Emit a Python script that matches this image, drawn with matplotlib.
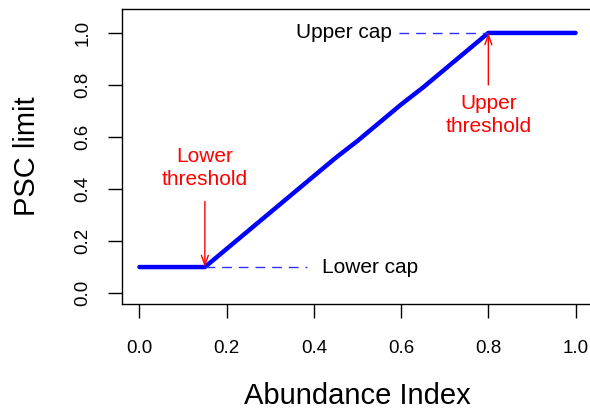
import matplotlib
matplotlib.use('Agg')
import matplotlib.pyplot as plt

# PSC limit as a function of abundance index
abundance = [0.0, 0.05, 0.10, 0.15, 0.20, 0.25, 0.30, 0.35, 0.40, 0.45, 0.50,
             0.55, 0.60, 0.65, 0.70, 0.75, 0.80, 0.85, 0.90, 0.95, 1.0]
psc_limit = [0.10, 0.10, 0.10, 0.10, 0.17, 0.24, 0.31, 0.38, 0.45, 0.52, 0.585,
             0.655, 0.725, 0.79, 0.86, 0.93, 1.0, 1.0, 1.0, 1.0, 1.0]

lower_threshold = 0.15
upper_threshold = 0.80
lower_cap = 0.10
upper_cap = 1.0

xticks = [0.0, 0.2, 0.4, 0.6, 0.8, 1.0]
yticks = [0.0, 0.2, 0.4, 0.6, 0.8, 1.0]

plt.rcParams['font.family'] = ['Liberation Sans', 'DejaVu Sans']

W, H = 590, 411
fig = plt.figure(figsize=(W / 100, H / 100), dpi=100)
ax = fig.add_axes([122 / W, 1 - 304 / H, (593 - 122) / W, (304 - 9) / H])

ax.plot(abundance, psc_limit, color='#0000ff', lw=3.2, solid_capstyle='round')

# cap lines and labels
ax.plot([lower_threshold, 0.385], [lower_cap, lower_cap], color='#3030ff',
        lw=1.0, linestyle=(0, (7, 5)))
ax.text(0.418, lower_cap, 'Lower cap', fontsize=15, ha='left', va='center')
ax.plot([0.595, upper_threshold], [upper_cap, upper_cap], color='#3030ff',
        lw=1.0, linestyle=(0, (7, 5)))
ax.text(0.578, upper_cap, 'Upper cap', fontsize=15, ha='right', va='center')

# threshold arrows
arrow = dict(arrowstyle='->,head_length=0.7,head_width=0.25', color='red', lw=1,
             shrinkA=0, shrinkB=0)
ax.annotate('', xy=(lower_threshold, lower_cap), xytext=(lower_threshold, 0.352),
            arrowprops=arrow)
ax.text(lower_threshold, 0.48, 'Lower\nthreshold', color='red', fontsize=15,
        ha='center', va='center', linespacing=1.3)
ax.annotate('', xy=(upper_threshold, upper_cap), xytext=(upper_threshold, 0.80),
            arrowprops=arrow)
ax.text(upper_threshold, 0.685, 'Upper\nthreshold', color='red', fontsize=15,
        ha='center', va='center', linespacing=1.3)

ax.set_xlim(-0.04, 1.04)
ax.set_ylim(-0.042, 1.092)
ax.set_xticks(xticks)
ax.set_yticks(yticks)
ax.set_xticklabels([f'{v:.1f}' for v in xticks])
ax.set_yticklabels([f'{v:.1f}' for v in yticks], rotation=90, va='center')
ax.tick_params(axis='both', length=10, width=1, labelsize=13.5, direction='out')
ax.tick_params(axis='x', pad=16)
ax.tick_params(axis='y', pad=12)
for s in ax.spines.values():
    s.set_linewidth(1)

ax.set_xlabel('Abundance Index', fontsize=21, labelpad=18)
ax.set_ylabel('PSC limit', fontsize=21, labelpad=24)

fig.savefig('out.png', dpi=100)
